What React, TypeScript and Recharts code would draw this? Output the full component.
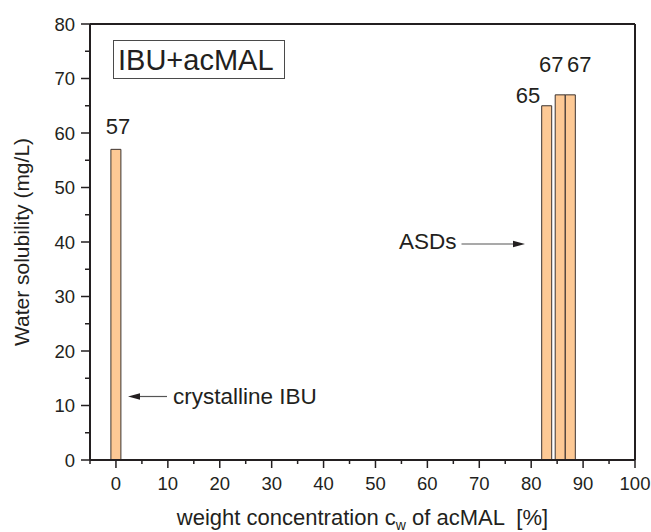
import { Bar, ComposedChart, LabelList, XAxis, YAxis } from 'recharts'

// acMAL weight concentration (%) and measured water solubility (mg/L)
const concentrations = [0, 83, 85.6, 87.55]
const solubility = [57, 65, 67, 67]

const xTicks = [-5, 0, 5, 10, 15, 20, 25, 30, 35, 40, 45, 50, 55, 60, 65, 70, 75, 80, 85, 90, 95, 100]
const yTicks = [0, 5, 10, 15, 20, 25, 30, 35, 40, 45, 50, 55, 60, 65, 70, 75, 80]

const data = concentrations.map((cw, i) => ({ cw, sol: solubility[i] }))

// value labels were hand placed in the original figure
const labelPlacement = [
  { dx: 2, dy: -15, anchor: 'middle' },
  { dx: -6.5, dy: -3, anchor: 'end' },
  { dx: -9, dy: -23, anchor: 'middle' },
  { dx: 9, dy: -23, anchor: 'middle' },
]

const FONT = '"Liberation Sans", Arial, Helvetica, sans-serif'
const INK = '#231f20'
const W = 651
const H = 532

const FrameTick = (props: any) => {
  const { x, y, payload, side } = props
  const v = payload.value
  const major = v % 10 === 0
  const len = major ? 8 : 4
  if (side === 'bottom') {
    return (
      <g>
        <line x1={x} y1={y} x2={x} y2={y + len} stroke={INK} strokeWidth={1.5} />
        {major && (
          <text x={x} y={y + 30} textAnchor="middle" fontSize={18.5} fontFamily={FONT} fill={INK}>
            {v}
          </text>
        )}
      </g>
    )
  }
  if (side === 'left') {
    return (
      <g>
        <line x1={x} y1={y} x2={x - len - 1} y2={y} stroke={INK} strokeWidth={1.5} />
        {major && (
          <text x={x - 15} y={y + 6.5} textAnchor="end" fontSize={18.5} fontFamily={FONT} fill={INK}>
            {v}
          </text>
        )}
      </g>
    )
  }
  if (side === 'top') return <line x1={x} y1={y} x2={x} y2={y + len + 2} stroke={INK} strokeWidth={1.5} />
  return <line x1={x} y1={y} x2={x - len - 2} y2={y} stroke={INK} strokeWidth={1.5} />
}

const ValueLabel = (props: any) => {
  const vb = props.viewBox ?? {}
  const x = props.x ?? vb.x
  const y = props.y ?? vb.y
  const width = props.width ?? vb.width
  const p = labelPlacement[props.index] ?? labelPlacement[0]
  return (
    <text x={x + width / 2 + p.dx} y={y + p.dy} textAnchor={p.anchor} fontSize={22} fontFamily={FONT} fill={INK}>
      {props.value}
    </text>
  )
}

const axisLine = { stroke: INK, strokeWidth: 2 }

export default function App() {
  return (
    <div style={{ position: 'absolute', left: 0, top: 0, width: W, height: H, background: '#fff' }}>
      <ComposedChart width={W} height={H} data={data} margin={{ top: 24, right: 16, bottom: 42, left: 30 }}>
        <XAxis
          xAxisId="bottom"
          dataKey="cw"
          type="number"
          domain={[-5, 100]}
          ticks={xTicks}
          interval={0}
          height={30}
          tickSize={0}
          tickMargin={0}
          tickLine={false}
          axisLine={axisLine}
          tick={<FrameTick side="bottom" />}
        />
        <XAxis
          xAxisId="top"
          orientation="top"
          mirror
          type="number"
          domain={[-5, 100]}
          ticks={xTicks}
          interval={0}
          tickSize={0}
          tickMargin={0}
          tickLine={false}
          axisLine={axisLine}
          tick={<FrameTick side="top" />}
        />
        <YAxis
          yAxisId="left"
          type="number"
          domain={[0, 80]}
          ticks={yTicks}
          interval={0}
          width={60}
          tickSize={0}
          tickMargin={0}
          tickLine={false}
          axisLine={axisLine}
          tick={<FrameTick side="left" />}
        />
        <YAxis
          yAxisId="right"
          orientation="right"
          mirror
          type="number"
          domain={[0, 80]}
          ticks={yTicks}
          interval={0}
          tickSize={0}
          tickMargin={0}
          tickLine={false}
          axisLine={axisLine}
          tick={<FrameTick side="right" />}
        />
        <Bar
          xAxisId="bottom"
          yAxisId="left"
          dataKey="sol"
          barSize={10}
          fill="#fdc995"
          stroke="#3b3330"
          strokeWidth={1}
          isAnimationActive={false}
        >
          <LabelList dataKey="sol" content={<ValueLabel />} />
        </Bar>
      </ComposedChart>

      <svg
        width={W}
        height={H}
        style={{ position: 'absolute', left: 0, top: 0, pointerEvents: 'none' }}
        fontFamily={FONT}
        fill={INK}
      >
        <rect x={113.5} y={40.5} width={171} height={38} fill="none" stroke="#4a4a4a" strokeWidth={1} />
        <text x={118} y={70} fontSize={29}>IBU+acMAL</text>

        <line x1={136} y1={396.5} x2={167} y2={396.5} stroke="#555" strokeWidth={1.2} />
        <polygon points="128,396.5 140,393.3 140,399.7" fill={INK} />
        <text x={173} y={404} fontSize={22.5}>crystalline IBU</text>

        <text x={399} y={249} fontSize={22.5}>ASDs</text>
        <line x1={461.5} y1={244} x2={516} y2={244} stroke="#555" strokeWidth={1.2} />
        <polygon points="525,244 513,240.8 513,247.2" fill={INK} />

        <text transform="translate(29 242) rotate(-90)" textAnchor="middle" fontSize={21}>
          Water solubility (mg/L)
        </text>
        <text x={362.5} y={525} textAnchor="middle" fontSize={22} style={{ whiteSpace: 'pre' }}>
          weight concentration c<tspan fontSize={14} dy={5}>w</tspan>
          <tspan dy={-5}> of acMAL  [%]</tspan>
        </text>
      </svg>
    </div>
  )
}
